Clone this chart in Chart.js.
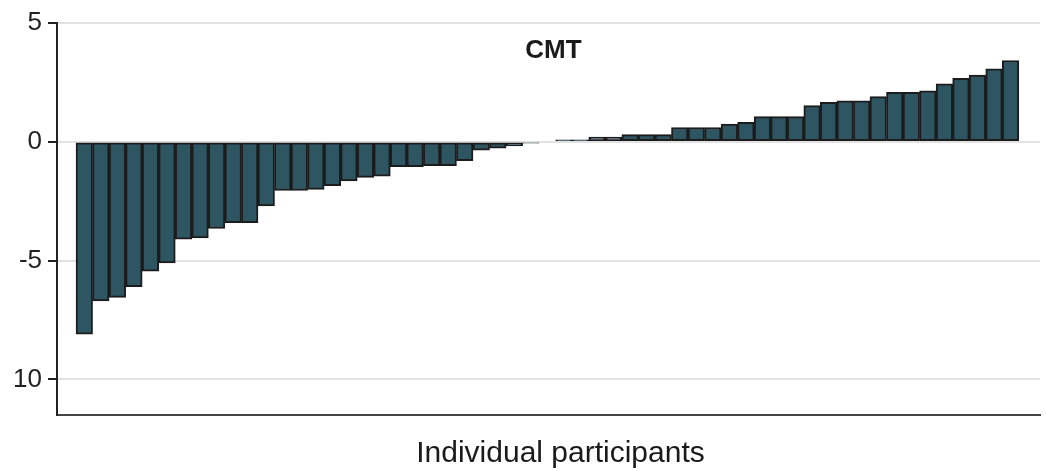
<!DOCTYPE html>
<html>
<head>
<meta charset="utf-8">
<title>CMT</title>
<script src="https://cdn.jsdelivr.net/npm/chart.js@4.4.1/dist/chart.umd.min.js"></script>
<style>
    html, body { margin: 0; padding: 0; background: #fff; }
    #wrap { width: 1046px; height: 471px; }
</style>
</head>
<body>
<div id="wrap"><canvas id="cmtChart" width="1046" height="471"></canvas></div>
<script>
// Change per participant, sorted
const participants = [
    1, 2, 3, 4, 5, 6, 7, 8, 9, 10, 11, 12, 13, 14, 15, 16, 17, 18, 19, 20,
    21, 22, 23, 24, 25, 26, 27, 28, 29, 30, 31, 32, 33, 34, 35, 36, 37, 38, 39, 40,
    41, 42, 43, 44, 45, 46, 47, 48, 49, 50, 51, 52, 53, 54, 55, 56, 57
];
const cmtChange = [
    -8.1, -6.7, -6.55, -6.1, -5.45, -5.1, -4.1, -4.05, -3.65, -3.4,
    -3.4, -2.7, -2.05, -2.05, -2.0, -1.85, -1.65, -1.5, -1.45, -1.05,
    -1.05, -1.0, -1.0, -0.8, -0.35, -0.27, -0.17, -0.06, 0, 0.08,
    0.08, 0.2, 0.2, 0.3, 0.3, 0.3, 0.6, 0.6, 0.6, 0.75,
    0.82, 1.06, 1.06, 1.06, 1.52, 1.66, 1.72, 1.72, 1.9, 2.08,
    2.08, 2.14, 2.44, 2.67, 2.81, 3.07, 3.42
];
const yTickValues = [5, 0, -5, -10];
const yTickLabels = ['5', '0', '-5', '10'];
const panelTitle = 'CMT';
const xAxisTitle = 'Individual participants';

const FONT = '"Liberation Sans", Arial, sans-serif';

// Titre du panneau et titre de l'axe x, dessinés à la main
const textPlugin = {
    id: 'panelText',
    afterDraw(chart) {
        const { ctx, chartArea } = chart;
        const cx = (chartArea.left + chartArea.right) / 2;
        ctx.save();
        ctx.fillStyle = '#1a1a1a';
        ctx.textAlign = 'center';
        ctx.textBaseline = 'middle';
        ctx.font = 'bold 26px ' + FONT;
        ctx.fillText(panelTitle, cx + 5, chartArea.top + 28);
        ctx.font = '30px ' + FONT;
        ctx.textBaseline = 'alphabetic';
        ctx.fillText(xAxisTitle, cx + 12, chartArea.bottom + 47);
        ctx.restore();
    }
};

const ctx = document.getElementById('cmtChart').getContext('2d');
new Chart(ctx, {
    type: 'bar',
    data: {
        labels: participants,
        datasets: [{
            label: panelTitle,
            data: cmtChange,
            backgroundColor: '#2e5562',
            borderColor: '#1c1c1c',
            borderWidth: 2,
            borderSkipped: false,
            barPercentage: 1,
            categoryPercentage: 1
        }]
    },
    options: {
        responsive: false,
        animation: false,
        layout: { padding: { top: 23, right: 6, bottom: 0, left: 0 } },
        plugins: {
            legend: { display: false },
            tooltip: { enabled: false }
        },
        scales: {
            x: {
                type: 'linear',
                offset: false,
                min: -0.65,
                max: 58.78,
                afterBuildTicks: scale => {
                    scale.ticks = participants.map(v => ({ value: v }));
                },
                afterFit: scale => { scale.height = 56; },
                grid: { display: false, drawTicks: false, offset: false },
                border: { display: true, color: '#444', width: 2 },
                ticks: { display: false }
            },
            y: {
                min: -11.5,
                max: 5,
                afterBuildTicks: scale => {
                    scale.ticks = yTickValues.map(v => ({ value: v }));
                },
                afterFit: scale => { scale.width = 57; },
                grid: {
                    color: '#e2e2e2',
                    lineWidth: 2,
                    tickColor: '#222',
                    tickWidth: 2,
                    tickLength: 9
                },
                border: { display: true, color: '#222', width: 2 },
                ticks: {
                    padding: 6,
                    color: '#222',
                    font: { family: FONT, size: 26 },
                    callback: (value) => {
                        const i = yTickValues.indexOf(value);
                        return i >= 0 ? yTickLabels[i] : '';
                    }
                }
            }
        }
    },
    plugins: [textPlugin]
});
</script>
</body>
</html>
